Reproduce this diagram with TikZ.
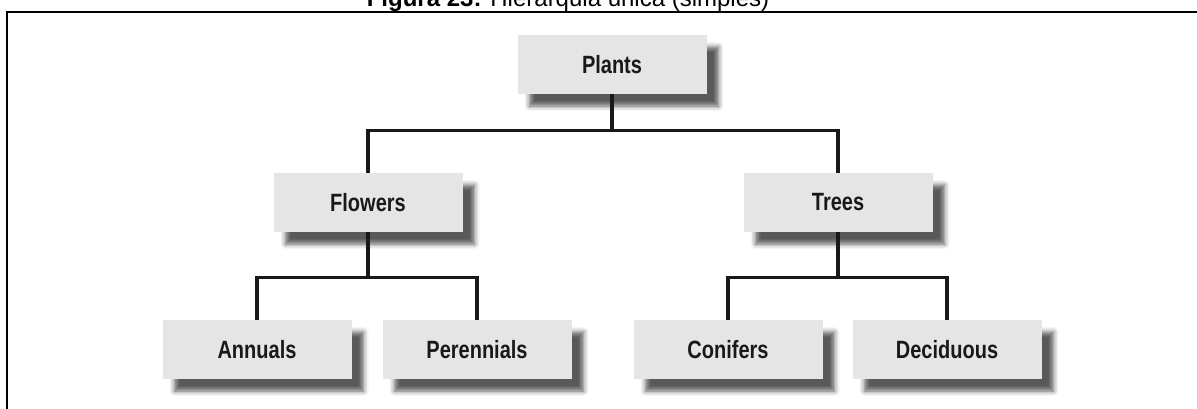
\documentclass[tikz,border=0pt]{standalone}
\usepackage{fontspec}
\setmainfont{Liberation Sans}
\newfontfamily\boxfont[FakeStretch=0.8]{Liberation Sans}
\usetikzlibrary{shadows.blur, positioning}
\definecolor{boxgray}{RGB}{229,229,229}
\definecolor{linedark}{RGB}{25,25,25}
\tikzset{
  catbox/.style={rectangle, fill=boxgray, minimum width=94.5pt,
    minimum height=29.5pt, inner sep=0pt, text=linedark,
    font=\boxfont\bfseries\fontsize{12.5}{14}\selectfont,
    blur shadow={shadow xshift=6pt, shadow yshift=-6pt,
      shadow blur radius=2.5pt, shadow opacity=65}},
  link/.style={line width=1.7pt, color=linedark},
  frame/.style={line width=1.1pt, color=black}
}

\begin{document}
\begin{tikzpicture}[x=0.5pt, y=-0.5pt]
  \clip (0,0) rectangle (1197,408);
  % Outer frame (cut at the right and bottom)
  \draw[frame] (7,12) rectangle (1215,425);
  % Caption
  \node[anchor=base, inner sep=0pt, font=\fontsize{12}{14}\selectfont] (caption) at (568,6)
    {\textbf{Figura 23:} Hierarquia única (simples)};

  % ── Boxes ────────────────────────────────────────────────
  \node[catbox] (plants) at (612,64.5) {Plants};
  \node[catbox] (flowers) at (368,202.5) {Flowers};
  \node[catbox] (trees) at (838,202.5) {Trees};
  \node[catbox] (annuals) at (257,349.5) {Annuals};
  \node[catbox] (perennials) at (477,349.5) {Perennials};
  \node[catbox] (conifers) at (728,349.5) {Conifers};
  \node[catbox] (deciduous) at (947,349.5) {Deciduous};

  % ── Connectors ───────────────────────────────────────────
  \draw[link] (plants.south) -- ++(0,36) -| (flowers.north);
  \draw[link] (plants.south) -- ++(0,36) -| (trees.north);
  \draw[link] (flowers.south) -- ++(0,45) -| (annuals.north);
  \draw[link] (flowers.south) -- ++(0,45) -| (perennials.north);
  \draw[link] (trees.south) -- ++(0,45) -| (conifers.north);
  \draw[link] (trees.south) -- ++(0,45) -| (deciduous.north);
\end{tikzpicture}
\end{document}
